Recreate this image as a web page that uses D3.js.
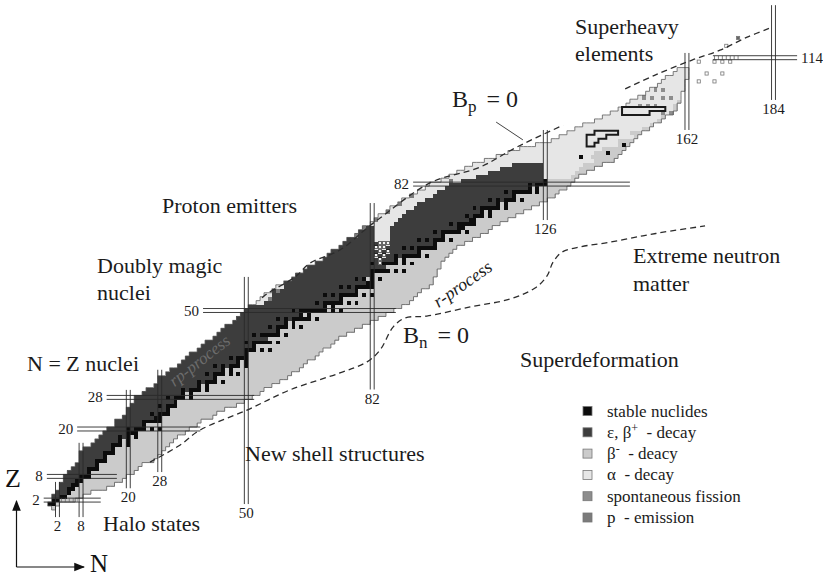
<!DOCTYPE html>
<html>
<head>
<meta charset="utf-8">
<script src="https://cdn.jsdelivr.net/npm/d3@7"></script>
<style>
  body { margin: 0; background: #fff; }
  svg { display: block; }
</style>
</head>
<body>
<svg id="chart" width="823" height="578"></svg>
<script>
// ---- Chart of nuclides: known region per proton number Z (index = Z) ----
const protonEdge = [1,
  0,1,1,2,3,3,4,4,5,6, 7,8,8,8,9,11,12,13,14,15, 17,17,19,20,20,21,22,22,24,25,
  27,28,28,30,31,33,34,35,36,38, 39,40,42,43,44,45,47,48,49,50, 51,53,54,55,57,58,60,62,63,65,
  66,68,70,71,72,74,75,76,78,79, 80,82,83,84,86,87,89,90,92,94, 96,97,100,102,104,106,108,111,114,117,
  120,124,128,130,132,134,136,139,141,143, 145,147,148,150,152,153,155,156,157,159, 160];
const neutronEdge = [1,
  2,6,8,10,14,16,18,19,21,22, 23,26,27,28,29,30,31,32,34,35, 37,38,41,42,44,47,49,51,53,54,
  56,58,60,61,63,64,65,67,68,69, 71,72,73,75,77,79,81,83,85,87, 89,91,92,93,94,96,97,97,98,98,
  99,99,100,101,102,103,105,107,109,111, 112,114,116,118,120,122,124,126,128,129, 131,132,133,134,136,138,140,143,144,145,
  146,147,148,149,150,152,153,155,156,158, 159,159,160,160,160,161,161,161,162,162, 162];

// stable neutron numbers for each Z
const stableN = [[],
  [0,1],[1,2],[3,4],[5],[5,6],[6,7],[7,8],[8,9,10],[10],[10,11,12],
  [12],[12,13,14],[14],[14,15,16],[16],[16,17,18,20],[18,20],[18,20,22],[20,21,22],[20,22,23,24,26,28],
  [24],[24,25,26,27,28],[27,28],[26,28,29,30],[30],[28,30,31,32],[32],[30,32,33,34,36],[34,36],[34,36,37,38,40],
  [38,40],[38,40,41,42,44],[42],[40,42,43,44,46,48],[44,46],[42,44,46,47,48,50],[48,50],[46,48,49,50],[50],[50,51,52,54,56],
  [52],[50,52,53,54,55,56,58],[],[52,54,55,56,57,58,60],[58],[56,58,59,60,62,64],[60,62],[58,60,62,63,64,65,66,68],[64,66],[62,64,65,66,67,68,69,70,72,74],
  [70,72],[68,70,71,72,73,74,76,78],[74],[70,72,74,75,76,77,78,80,82],[78],[74,76,78,79,80,81,82],[81,82],[78,80,82,84],[82],[82,83,84,85,86,88,90],
  [],[82,85,86,87,88,90,92],[88,90],[88,90,91,92,93,94,96],[94],[90,92,94,95,96,97,98],[98],[94,96,98,99,100,102],[100],[98,100,101,102,103,104,106],
  [104,105],[102,104,105,106,107,108],[107,108],[106,108,109,110,112],[110,112],[108,110,111,112,113,114,116],[114,116],[112,114,116,117,118,120],[118],[116,118,119,120,121,122,124],
  [122,124],[122,124,125,126],[126]];

// long-lived heavy nuclides shown as stable
const longLivedZ = [89, 90, 92];
const longLivedN = [135, 142, 146];

// first beta-minus emitter for elements without stable isotopes
const betaStartZ = [0, 43, 61, 84, 85, 86, 87, 88, 89, 90, 91, 92, 93, 94, 95, 96, 97, 98, 99, 100, 101, 102, 103];
const betaStartN = [0, 56, 86, 133, 134, 135, 136, 139, 138, 139, 141, 145, 145, 149, 148, 151, 153, 155, 156, 158, 159, 159, 160];

// alpha-decay runs [Z, first N, last N]
const alphaRuns = [
  [52,53,54],[53,54,55],[54,55,56],[56,58,59],
  [62,84,84],[63,84,84],[64,83,83],[64,85,85],[65,84,84],[65,86,86],[66,83,85],[67,84,86],[68,83,86],[69,83,86],[70,83,86],[71,83,86],[72,82,87],
  [73,83,88],[74,84,89],[75,86,90],[76,87,92],[77,89,93],[78,90,95],[79,92,97],[80,94,98],[81,96,100],[82,97,101],
  [83,100,104],[84,102,108],[85,104,111],[86,106,114],[87,108,117],
  [84,126,132],[85,126,133],[86,126,134],[87,126,135],
  [88,111,138],[89,114,137],[90,117,138],[91,120,140],
  [92,124,144],[93,128,144],[94,130,148],[95,132,147],[96,134,150],[97,136,152],[98,139,154],[99,141,155],[100,143,157],
  [101,145,158],[102,147,158],[103,148,159],[104,150,160],[105,152,160],[106,153,161],[107,155,161],[108,156,161],
  [109,157,162],[110,159,162],[111,160,162]];

// proton emitters and spontaneous fission [Z, N]
const protonEmitters = [[53,56],[55,58],[69,78],[71,80],[73,83],[75,86],[77,89],[79,92],[83,102]];
const fissionNuclides = [[98,156],[100,156],[100,158],[102,150],[102,152],[102,154],[104,151],[104,153],[104,156],[104,158],[106,154],[106,156]];

// groups of heavy nuclides framed by a heavy border [Z, first N, last N]
const framedRuns = [
  [92,137,138],[93,137,139],[94,137,141],[95,139,144],
  [100,146,152],[101,146,156]];

// predicted superheavy nuclides beyond N = 162
const superZ = [113,108,110,108,113,113,113,117,119,110];
const superN = [165,165,167,169,169,171,173,172,175,171];

// hatched cells (halo region and Z = 114 row)
const hatchZ = [2,2,2,2,2,114,114,114,114,114,114,114];
const hatchN = [3,4,5,6,7,169,170,171,172,173,174,175];

// magic numbers and the extent of their double lines
const magicN = [2, 8, 20, 28, 50, 82, 126, 162, 184];
const magicNSpan = [[-2.3,6.6],[-2.3,16.5],[5,29.9],[9.1,35],[1,58.5],[30,77.2],[72.9,95.7],[95.7,115.2],[103.3,127.3]];
const magicZ = [2, 8, 20, 28, 50, 82, 114];
const magicZSpan = [[-1.5,13],[-0.7,17.1],[7,38.3],[14.5,52],[39,88],[92.4,147.5],[168.6,190]];

// drip lines (N, Z)
const protonDrip = [[[54,53.2],[55.5,54.4],[62.4,58.5],[66.2,62],[73.8,65.3],[80.7,70.9],[84,73.4],[96.7,82.3],[109.4,86.3],[118.8,91.4],[130.5,96.9]],
                    [[146.3,106.1],[153.9,109.6],[163.3,113.4],[170.4,115.9],[177.3,119.2],[183.1,121.5]]];
const neutronDrip = [[25.5,11.6],[33.1,15.9],[38.2,19.7],[50.2,24.8],[61.1,29.9],[73.8,34.2],[80.7,37],[84,40],[87.3,45.8],
                     [90.3,48.1],[95.9,48.6],[106.9,50.9],[117,52.9],[123.4,55.7],[126.4,58.7],[128,62.3],[130.3,64.8],
                     [134.8,66.1],[142.5,67.3],[150.8,68.9],[157.7,70.1],[166.6,71.4]];
const bpPointer = [[113.5,97.7],[120.3,93.2]];

const legendModes = ["stable", "ec", "bm", "alpha", "sf", "p"];

// ---- scales ----
const x = d3.scaleLinear().domain([0, 184]).range([49.6, 773.5]);
const y = d3.scaleLinear().domain([0, 114]).range([508, 57.7]);
const cw = x(1) - x(0), ch = y(0) - y(1);

const fills = { stable: "#0c0c0c", ec: "#3d3d3d", bm: "#cbcbcb", alpha: "#e6e6e6", sf: "#8d8d8d", p: "#7b7b7b" };
const serif = "'Liberation Serif', 'Times New Roman', Tinos, 'DejaVu Serif', serif";

const svg = d3.select("#chart").attr("font-family", serif);
svg.append("rect").attr("width", 823).attr("height", 578).attr("fill", "#fff");

const key = (z, n) => z + ":" + n;
const stableSet = new Set();
stableN.forEach((ns, z) => ns.forEach(n => stableSet.add(key(z, n))));
longLivedZ.forEach((z, i) => stableSet.add(key(z, longLivedN[i])));
const alphaSet = new Set();
alphaRuns.forEach(([z, a, b]) => { for (let n = a; n <= b; n++) alphaSet.add(key(z, n)); });
const pSet = new Set(protonEmitters.map(([z, n]) => key(z, n)));
const sfSet = new Set(fissionNuclides.map(([z, n]) => key(z, n)));
const betaStart = new Map(betaStartZ.map((z, i) => [z, betaStartN[i]]));

function modeOf(z, n) {
  const k = key(z, n);
  if (stableSet.has(k)) return "stable";
  if (pSet.has(k)) return "p";
  if (sfSet.has(k)) return "sf";
  if (alphaSet.has(k)) return "alpha";
  const st = stableN[z] || [];
  const split = st.length ? (d3.min(st) + d3.max(st)) / 2 : (betaStart.has(z) ? betaStart.get(z) - 0.5 : 999);
  return n < split ? "ec" : "bm";
}

const cells = [];
protonEdge.forEach((n0, z) => {
  for (let n = n0; n <= neutronEdge[z]; n++) cells.push({ z, n, mode: modeOf(z, n) });
});

const gCells = svg.append("g").attr("shape-rendering", "crispEdges");
gCells.selectAll("rect").data(cells).join("rect")
  .attr("x", d => x(d.n - 0.5))
  .attr("y", d => y(d.z + 0.5))
  .attr("width", cw + 0.4)
  .attr("height", ch + 0.4)
  .attr("fill", d => fills[d.mode]);

// isolated alpha emitters inside the proton-rich band are drawn as open squares
gCells.selectAll("rect.iso").data(cells.filter(d => d.mode === "alpha" && d.z >= 62 && d.z <= 67)).join("rect")
  .attr("class", "iso")
  .attr("x", d => x(d.n - 0.5) + 0.6).attr("y", d => y(d.z + 0.5) + 0.6)
  .attr("width", cw - 1.2).attr("height", ch - 1.2)
  .attr("fill", "#f6f6f6").attr("stroke", "#111").attr("stroke-width", 0.6);

// border of a set of cells, built from the edges that have no neighbour
function cellBorder(list) {
  const set = new Set(list.map(d => key(d.z, d.n)));
  const p = d3.path();
  list.forEach(({ z, n }) => {
    const x0 = x(n - 0.5), x1 = x(n + 0.5), y0 = y(z + 0.5), y1 = y(z - 0.5);
    if (!set.has(key(z + 1, n))) { p.moveTo(x0, y0); p.lineTo(x1, y0); }
    if (!set.has(key(z - 1, n))) { p.moveTo(x0, y1); p.lineTo(x1, y1); }
    if (!set.has(key(z, n - 1))) { p.moveTo(x0, y0); p.lineTo(x0, y1); }
    if (!set.has(key(z, n + 1))) { p.moveTo(x1, y0); p.lineTo(x1, y1); }
  });
  return p.toString();
}
svg.append("path").attr("d", cellBorder(cells)).attr("fill", "none").attr("stroke", "#5e5e5e").attr("stroke-width", 0.8);

const framed = [];
framedRuns.forEach(([z, a, b]) => { for (let n = a; n <= b; n++) framed.push({ z, n }); });
svg.append("path").attr("d", cellBorder(framed)).attr("fill", "none")
  .attr("stroke", "#1a1a1a").attr("stroke-width", 2).attr("stroke-linecap", "square");

// predicted superheavy nuclides
svg.append("g").selectAll("rect").data(superZ.map((z, i) => ({ z, n: superN[i] }))).join("rect")
  .attr("x", d => x(d.n - 0.4)).attr("y", d => y(d.z + 0.4))
  .attr("width", cw * 0.8).attr("height", ch * 0.8)
  .attr("fill", (d, i) => i === superZ.length - 2 ? "#666" : "#fff")
  .attr("stroke", "#777").attr("stroke-width", 0.8);

// hatched cells
svg.append("g").selectAll("line").data(hatchZ.map((z, i) => ({ z, n: hatchN[i] }))).join("line")
  .attr("x1", d => x(d.n)).attr("x2", d => x(d.n))
  .attr("y1", d => y(d.z + 0.45)).attr("y2", d => y(d.z - 0.45))
  .attr("stroke", "#777").attr("stroke-width", 0.9);

// magic number double lines
const gMagic = svg.append("g").attr("stroke", "#2a2a2a").attr("stroke-width", 0.9);
magicN.forEach((n, i) => {
  const [z0, z1] = magicNSpan[i];
  [-0.5, 0.5].forEach(o => gMagic.append("line")
    .attr("x1", x(n + o)).attr("x2", x(n + o)).attr("y1", y(z0)).attr("y2", y(z1)));
});
magicZ.forEach((z, i) => {
  const [n0, n1] = magicZSpan[i];
  [-0.5, 0.5].forEach(o => gMagic.append("line")
    .attr("x1", x(n0)).attr("x2", x(n1)).attr("y1", y(z + o)).attr("y2", y(z + o)));
});

// magic number labels
const gLab = svg.append("g").attr("font-size", 15).attr("fill", "#1b1b1b");
magicN.forEach((n, i) => {
  gLab.append("text").attr("x", x(n)).attr("y", y(magicNSpan[i][0]) + 14)
    .attr("text-anchor", "middle").text(n);
});
magicZ.forEach((z, i) => {
  const right = z === 114;
  gLab.append("text")
    .attr("x", right ? x(magicZSpan[i][1]) + 4 : x(magicZSpan[i][0]) - 4)
    .attr("y", y(z) + 5)
    .attr("text-anchor", right ? "start" : "end").text(z);
});

// drip lines
const line = d3.line().x(d => x(d[0])).y(d => y(d[1])).curve(d3.curveCatmullRom);
const gDrip = svg.append("g").attr("fill", "none").attr("stroke", "#2c2c2c").attr("stroke-width", 1.3).attr("stroke-dasharray", "6,4");
protonDrip.forEach(seg => gDrip.append("path").attr("d", line(seg)));
gDrip.append("path").attr("d", line(neutronDrip));
svg.append("line")
  .attr("x1", x(bpPointer[0][0])).attr("y1", y(bpPointer[0][1]))
  .attr("x2", x(bpPointer[1][0])).attr("y2", y(bpPointer[1][1]))
  .attr("stroke", "#444").attr("stroke-width", 1);

// region labels
const labels = [
  ["Superheavy", 575, 34], ["elements", 575, 61],
  ["Proton emitters", 162, 213],
  ["Doubly magic", 97, 273], ["nuclei", 97, 300],
  ["N = Z nuclei", 27, 371],
  ["Extreme neutron", 633, 263], ["matter", 633, 291],
  ["Superdeformation", 520, 367],
  ["New shell structures", 245, 461],
  ["Halo states", 103, 531]
];
svg.append("g").attr("font-size", 22).attr("fill", "#1b1b1b").selectAll("text").data(labels).join("text")
  .attr("x", d => d[1]).attr("y", d => d[2]).text(d => d[0]);

function dripLabel(sub, px, py) {
  const t = svg.append("text").attr("x", px).attr("y", py).attr("font-size", 24).attr("fill", "#1b1b1b");
  t.append("tspan").text("B");
  t.append("tspan").attr("font-size", 17).attr("dy", 5).text(sub);
  t.append("tspan").attr("dy", -5).attr("dx", 10).text("= 0");
}
dripLabel("p", 452, 107);
dripLabel("n", 403, 343);

svg.append("text").attr("transform", "translate(466,289) rotate(-35)").attr("fill", "#1b1b1b")
  .attr("text-anchor", "middle").attr("font-size", 18).attr("font-style", "italic").text("r-process");
svg.append("text").attr("transform", "translate(203,365) rotate(-38)")
  .attr("text-anchor", "middle").attr("font-size", 17).attr("font-style", "italic")
  .attr("fill", "#6c6c6c").text("rp-process");

// axis arrows
const defs = svg.append("defs");
defs.append("marker").attr("id", "head").attr("viewBox", "0 0 10 10").attr("refX", 9).attr("refY", 5)
  .attr("markerWidth", 9).attr("markerHeight", 9).attr("orient", "auto")
  .append("path").attr("d", "M0,1 L10,5 L0,9 Z").attr("fill", "#111");
svg.append("line").attr("x1", 16.5).attr("y1", 567).attr("x2", 16.5).attr("y2", 501)
  .attr("stroke", "#111").attr("stroke-width", 1.2).attr("marker-end", "url(#head)");
svg.append("line").attr("x1", 16.5).attr("y1", 567).attr("x2", 84).attr("y2", 567)
  .attr("stroke", "#111").attr("stroke-width", 1.2).attr("marker-end", "url(#head)");
svg.append("text").attr("x", 5).attr("y", 487).attr("font-size", 26).attr("fill", "#111").text("Z");
svg.append("text").attr("x", 90).attr("y", 572).attr("font-size", 25).attr("fill", "#111").text("N");

// legend
const legendRows = [
  ["stable nuclides", "", ""],
  ["ε, β", "+", "\u00a0 - decay"],
  ["β", "-", "\u00a0 - deacy"],
  ["α \u00a0- decay", "", ""],
  ["spontaneous fission", "", ""],
  ["p \u00a0- emission", "", ""]
];
const gLeg = svg.append("g");
legendRows.forEach((r, i) => {
  const cy = 411 + i * 21.3;
  gLeg.append("rect").attr("x", 583).attr("y", cy - 4.5).attr("width", 9).attr("height", 9)
    .attr("fill", fills[legendModes[i]]).attr("stroke", "#777").attr("stroke-width", 0.8);
  const t = gLeg.append("text").attr("x", 607).attr("y", cy + 5.5).attr("font-size", 17).attr("fill", "#1b1b1b");
  t.append("tspan").text(r[0]);
  if (r[1]) {
    t.append("tspan").attr("dy", -6).attr("font-size", 12).text(r[1]);
    t.append("tspan").attr("dy", 6).text(r[2]);
  }
});
</script>
</body>
</html>
